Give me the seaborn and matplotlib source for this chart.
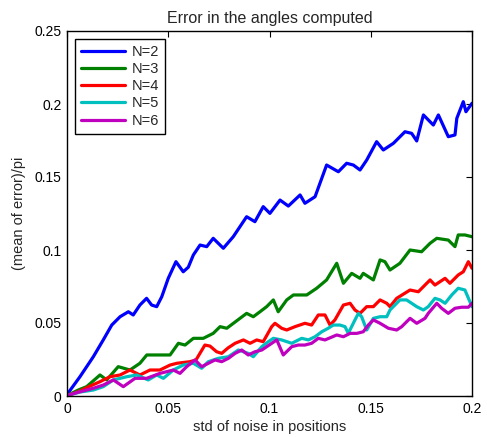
import numpy as np
import pandas as pd
import matplotlib
matplotlib.use("Agg")
import matplotlib.pyplot as plt
import seaborn as sns

# ---- data ----
x_n2 = [0.000, 0.0064, 0.0130, 0.0179, 0.0221, 0.0262, 0.0303, 0.0327, 0.0360, 0.0393,
        0.0418, 0.0443, 0.0468, 0.0500, 0.0538, 0.0574, 0.0599, 0.0624, 0.0657, 0.0690,
        0.0722, 0.0772, 0.0821, 0.0887, 0.0928, 0.0969, 0.1002, 0.1052, 0.1093, 0.1151,
        0.1175, 0.1225, 0.1282, 0.1340, 0.1381, 0.1414, 0.1447, 0.1480, 0.1529, 0.1562,
        0.1612, 0.1669, 0.1702, 0.1727, 0.1760, 0.1809, 0.1834, 0.1883, 0.1916, 0.1925,
        0.1957, 0.1970, 0.2000]
y_n2 = [0.001, 0.0132, 0.0269, 0.0384, 0.0486, 0.0543, 0.0577, 0.0555, 0.0623, 0.0669,
        0.0623, 0.0612, 0.0680, 0.0806, 0.0920, 0.0851, 0.0882, 0.0966, 0.1034, 0.1023,
        0.1080, 0.1012, 0.1091, 0.1228, 0.1194, 0.1297, 0.1251, 0.1342, 0.1301, 0.1377,
        0.1320, 0.1365, 0.1582, 0.1536, 0.1594, 0.1582, 0.1548, 0.1616, 0.1742, 0.1685,
        0.1731, 0.1810, 0.1799, 0.1747, 0.1925, 0.1856, 0.1925, 0.1776, 0.1788, 0.1902,
        0.2016, 0.1947, 0.2005]

x_n3 = [0.000, 0.0056, 0.0097, 0.0163, 0.0196, 0.0253, 0.0311, 0.0360, 0.0394, 0.0459,
        0.0509, 0.0550, 0.0583, 0.0624, 0.0673, 0.0722, 0.0756, 0.0789, 0.0887, 0.0920,
        0.0953, 0.0986, 0.1019, 0.1043, 0.1085, 0.1118, 0.1184, 0.1233, 0.1282, 0.1332,
        0.1365, 0.1406, 0.1447, 0.1463, 0.1513, 0.1546, 0.1570, 0.1595, 0.1644, 0.1694,
        0.1751, 0.1793, 0.1826, 0.1883, 0.1916, 0.1932, 0.1965, 0.2000]
y_n3 = [0.0003, 0.0041, 0.0064, 0.0144, 0.0110, 0.0201, 0.0178, 0.0224, 0.0281, 0.0281,
        0.0281, 0.0361, 0.0349, 0.0395, 0.0395, 0.0429, 0.0475, 0.0464, 0.0566, 0.0543,
        0.0577, 0.0612, 0.0658, 0.0577, 0.0658, 0.0692, 0.0692, 0.0738, 0.0795, 0.0909,
        0.0772, 0.0840, 0.0806, 0.0840, 0.0795, 0.0932, 0.0920, 0.0863, 0.0909, 0.1000,
        0.0988, 0.1046, 0.1080, 0.1068, 0.1023, 0.1103, 0.1103, 0.1091]

x_n4 = [0.000, 0.0064, 0.0114, 0.0163, 0.0212, 0.0262, 0.0311, 0.0360, 0.0410, 0.0459,
        0.0509, 0.0542, 0.0607, 0.0637, 0.0681, 0.0706, 0.0739, 0.0764, 0.0795, 0.0830,
        0.0871, 0.0904, 0.0937, 0.0969, 0.1011, 0.1027, 0.1060, 0.1085, 0.1126, 0.1175,
        0.1208, 0.1241, 0.1274, 0.1299, 0.1323, 0.1365, 0.1398, 0.1422, 0.1447, 0.1480,
        0.1513, 0.1546, 0.1579, 0.1595, 0.1628, 0.1694, 0.1735, 0.1793, 0.1817, 0.1842,
        0.1867, 0.1891, 0.1932, 0.1957, 0.1982, 0.2000]
y_n4 = [0.0003, 0.0034, 0.0068, 0.0098, 0.0132, 0.0144, 0.0178, 0.0144, 0.0178, 0.0178,
        0.0212, 0.0224, 0.0235, 0.0247, 0.0349, 0.0342, 0.0303, 0.0292, 0.0329, 0.0361,
        0.0384, 0.0361, 0.0384, 0.0372, 0.0475, 0.0498, 0.0464, 0.0452, 0.0475, 0.0498,
        0.0486, 0.0555, 0.0555, 0.0486, 0.0521, 0.0623, 0.0635, 0.0589, 0.0566, 0.0612,
        0.0612, 0.0658, 0.0635, 0.0612, 0.0669, 0.0726, 0.0714, 0.0795, 0.0760, 0.0783,
        0.0806, 0.0772, 0.0829, 0.0851, 0.0920, 0.0875]

x_n5 = [0.000, 0.0064, 0.0130, 0.0179, 0.0229, 0.0295, 0.0344, 0.0401, 0.0443, 0.0476,
        0.0525, 0.0574, 0.0624, 0.0665, 0.0698, 0.0747, 0.0797, 0.0846, 0.0895, 0.0920,
        0.0962, 0.0994, 0.1019, 0.1060, 0.1110, 0.1159, 0.1192, 0.1225, 0.1258, 0.1290,
        0.1315, 0.1348, 0.1373, 0.1389, 0.1422, 0.1439, 0.1455, 0.1480, 0.1513, 0.1546,
        0.1579, 0.1595, 0.1644, 0.1677, 0.1727, 0.1760, 0.1784, 0.1817, 0.1842, 0.1867,
        0.1900, 0.1932, 0.1965, 0.2000]
y_n5 = [0.0003, 0.0027, 0.0041, 0.0064, 0.0110, 0.0132, 0.0144, 0.0110, 0.0144, 0.0121,
        0.0178, 0.0212, 0.0224, 0.0190, 0.0235, 0.0258, 0.0269, 0.0315, 0.0292, 0.0269,
        0.0338, 0.0372, 0.0395, 0.0384, 0.0361, 0.0395, 0.0384, 0.0406, 0.0440, 0.0464,
        0.0486, 0.0486, 0.0475, 0.0429, 0.0521, 0.0566, 0.0543, 0.0452, 0.0532, 0.0543,
        0.0543, 0.0589, 0.0658, 0.0658, 0.0612, 0.0589, 0.0612, 0.0669, 0.0658, 0.0635,
        0.0692, 0.0738, 0.0726, 0.0612]

x_n6 = [0.000, 0.0064, 0.0130, 0.0179, 0.0229, 0.0278, 0.0336, 0.0393, 0.0459, 0.0525,
        0.0558, 0.0591, 0.0632, 0.0665, 0.0698, 0.0731, 0.0764, 0.0797, 0.0830, 0.0863,
        0.0895, 0.0928, 0.0962, 0.1011, 0.1036, 0.1068, 0.1110, 0.1142, 0.1175, 0.1208,
        0.1241, 0.1274, 0.1332, 0.1365, 0.1398, 0.1431, 0.1463, 0.1488, 0.1513, 0.1546,
        0.1587, 0.1628, 0.1653, 0.1694, 0.1727, 0.1768, 0.1784, 0.1826, 0.1850, 0.1883,
        0.1916, 0.1949, 0.1982, 0.2000]
y_n6 = [0.0003, 0.0029, 0.0053, 0.0075, 0.0110, 0.0064, 0.0121, 0.0121, 0.0155, 0.0178,
        0.0155, 0.0201, 0.0247, 0.0201, 0.0224, 0.0247, 0.0235, 0.0258, 0.0292, 0.0315,
        0.0281, 0.0303, 0.0315, 0.0361, 0.0384, 0.0281, 0.0338, 0.0349, 0.0349, 0.0361,
        0.0395, 0.0384, 0.0418, 0.0406, 0.0429, 0.0429, 0.0440, 0.0486, 0.0521, 0.0498,
        0.0464, 0.0452, 0.0475, 0.0532, 0.0498, 0.0532, 0.0566, 0.0635, 0.0601, 0.0566,
        0.0601, 0.0608, 0.0608, 0.0635]

labels = ["N=2", "N=3", "N=4", "N=5", "N=6"]
xs = [x_n2, x_n3, x_n4, x_n5, x_n6]
ys = [y_n2, y_n3, y_n4, y_n5, y_n6]
colors = ["#0000ff", "#008000", "#ff0000", "#00bfbf", "#bf00bf"]

xticks = [0, 0.05, 0.1, 0.15, 0.2]
xticklabels = ["0", "0.05", "0.1", "0.15", "0.2"]
yticks = [0, 0.05, 0.1, 0.15, 0.2, 0.25]
yticklabels = ["0", "0.05", "0.1", "0.15", "0.2", "0.25"]

sns.set_style("white")
plt.rcParams["font.family"] = ["Liberation Sans", "DejaVu Sans"]
plt.rcParams["font.size"] = 10

fig = plt.figure(figsize=(4.87, 4.37), dpi=100)
ax = fig.add_axes([67 / 487, 1 - 396 / 437, (472 - 67) / 487, (396 - 31) / 437])

for xv, yv, lab, col in zip(xs, ys, labels, colors):
    df = pd.DataFrame({"x": xv, "y": yv})
    sns.lineplot(data=df, x="x", y="y", ax=ax, color=col, linewidth=2.3,
                 label=lab, sort=False, estimator=None)

ax.set_xlim(0, 0.2)
ax.set_ylim(0, 0.25)
ax.set_xticks(xticks)
ax.set_xticklabels(xticklabels)
ax.set_yticks(yticks)
ax.set_yticklabels(yticklabels)
ax.tick_params(direction="in", length=4, width=0.8, top=True, right=True,
               labelsize=10, colors="black", pad=4)
for s in ax.spines.values():
    s.set_color("black")
    s.set_linewidth(1.0)

ax.set_xlabel("std of noise in positions", fontsize=10.5, labelpad=3)
ax.set_ylabel("(mean of error)/pi", fontsize=10.5, labelpad=6)
ax.set_title("Error in the angles computed", fontsize=11.5, pad=6)

leg = ax.legend(loc="upper left", frameon=True, fancybox=False, edgecolor="black",
                framealpha=1, fontsize=10.5, handlelength=3.0, handletextpad=0.5,
                labelspacing=0.22, borderaxespad=0.55, borderpad=0.4)
leg.get_frame().set_linewidth(1.0)

fig.savefig("out.png", dpi=100)
